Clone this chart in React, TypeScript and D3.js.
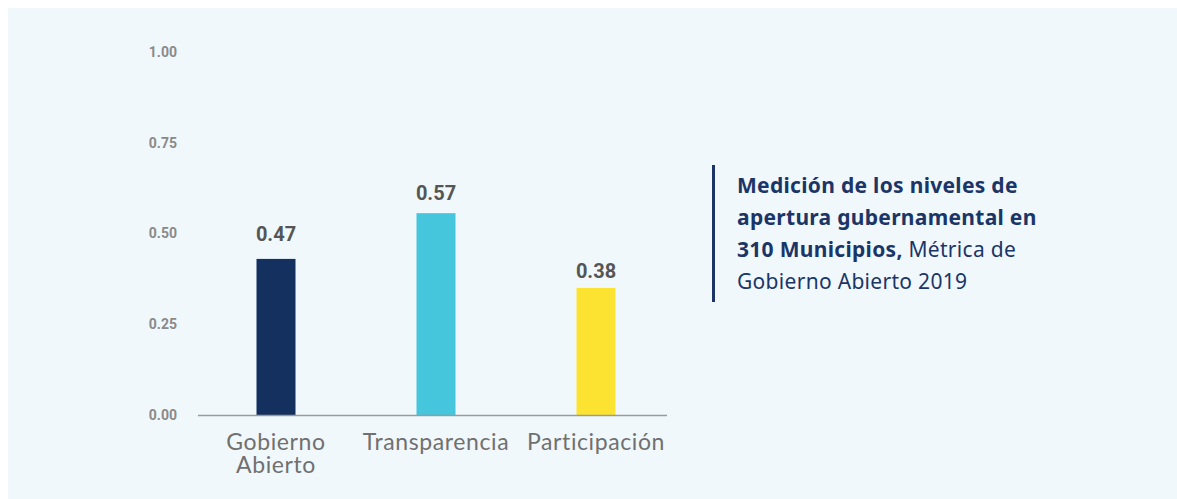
import { useEffect, useRef } from 'react'
import * as d3 from 'd3'

// Métrica de Gobierno Abierto 2019 — tres índices, barras simples
const CATEGORIES = ['Gobierno Abierto', 'Transparencia', 'Participación']
const CATEGORY_LINES = [['Gobierno', 'Abierto'], ['Transparencia'], ['Participación']]
// alturas leídas de las barras (la imagen original no coincide con sus etiquetas)
const BAR_VALUES = [0.43, 0.556, 0.35]
const LABEL_VALUES = [0.47, 0.57, 0.38]
const LABELS = ['0.47', '0.57', '0.38']
const COLORS = ['#13305f', '#46c6dc', '#fde331']
const Y_TICKS = [0, 0.25, 0.5, 0.75, 1]
// nota lateral: [parte en negrita, parte normal] por línea
const NOTE_LINES: [string, string][] = [
  ['Medición de los niveles de', ''],
  ['apertura gubernamental en', ''],
  ['310 Municipios,', ' Métrica de'],
  ['', 'Gobierno Abierto 2019'],
]

const W = 1177, H = 499

export default function App() {
  const ref = useRef<SVGSVGElement>(null)

  useEffect(() => {
    const svg = d3.select(ref.current)
    svg.selectAll('*').remove()

    svg.append('rect')
      .attr('x', 8).attr('y', 8).attr('width', W - 8).attr('height', H - 8)
      .attr('fill', '#f0f8fc')

    const x = d3.scalePoint<string>().domain(CATEGORIES).range([196, 676]).padding(0.5)
    const y = d3.scaleLinear().domain([0, 1]).range([415, 52])
    // las etiquetas de valor siguen su propia escala
    const yLabel = d3.scaleLinear().domain([0, 1]).range([434, 24])
    const barW = 39

    // eje y: solo texto
    svg.append('g')
      .attr('transform', 'translate(177,0)')
      .call(d3.axisLeft(y).tickValues(Y_TICKS).tickFormat(d3.format('.2f')).tickSize(0).tickPadding(0))
      .call(s => s.select('.domain').remove())
      .call(s => s.selectAll('text')
        .attr('fill', '#8a8a8a').attr('font-size', 14).attr('font-weight', 700)
        .attr('font-family', 'Roboto, sans-serif'))

    // barras
    svg.append('g').selectAll('rect')
      .data(CATEGORIES)
      .join('rect')
      .attr('x', d => x(d)! - barW / 2)
      .attr('width', barW)
      .attr('y', (d, i) => y(BAR_VALUES[i]))
      .attr('height', (d, i) => y(0) - y(BAR_VALUES[i]))
      .attr('fill', (d, i) => COLORS[i])

    // línea base
    svg.append('line')
      .attr('x1', 198).attr('x2', 667)
      .attr('y1', y(0) + 0.5).attr('y2', y(0) + 0.5)
      .attr('stroke', '#9a9a9a').attr('stroke-width', 1.5)

    // etiquetas de valor
    svg.append('g').selectAll('text')
      .data(CATEGORIES)
      .join('text')
      .attr('x', d => x(d)!)
      .attr('y', (d, i) => yLabel(LABEL_VALUES[i]))
      .attr('text-anchor', 'middle')
      .attr('font-family', 'Roboto, sans-serif').attr('font-weight', 700).attr('font-size', 20)
      .attr('fill', '#555555')
      .text((d, i) => LABELS[i])

    // categorías
    const cat = svg.append('g').selectAll('text')
      .data(CATEGORIES)
      .join('text')
      .attr('x', d => x(d)!)
      .attr('y', 450)
      .attr('text-anchor', 'middle')
      .attr('font-family', 'Lato, sans-serif').attr('font-size', 23).attr('letter-spacing', 0.6)
      .attr('fill', '#707070')
    cat.selectAll('tspan')
      .data((d, i) => CATEGORY_LINES[i])
      .join('tspan')
      .attr('x', function () { return (this as any).parentNode.getAttribute('x') })
      .attr('dy', (d, i) => (i === 0 ? 0 : 23))
      .text(d => d)

    // nota lateral
    svg.append('rect')
      .attr('x', 712).attr('y', 165).attr('width', 3).attr('height', 137)
      .attr('fill', '#1b3567')

    const note = svg.append('text')
      .attr('font-family', '"Noto Sans", sans-serif').attr('font-size', 21).attr('letter-spacing', 0.3)
      .attr('fill', '#1b3567')
    NOTE_LINES.forEach(([bold, normal], i) => {
      const line = note.append('tspan').attr('x', 737).attr('y', 193 + i * 32)
      if (bold) line.append('tspan').attr('font-weight', 700).text(bold)
      if (normal) line.append('tspan').attr('font-weight', 400).text(normal)
    })
  }, [])

  return (
    <svg ref={ref} width={W} height={H}
      style={{ position: 'absolute', left: 0, top: 0, display: 'block' }} />
  )
}
